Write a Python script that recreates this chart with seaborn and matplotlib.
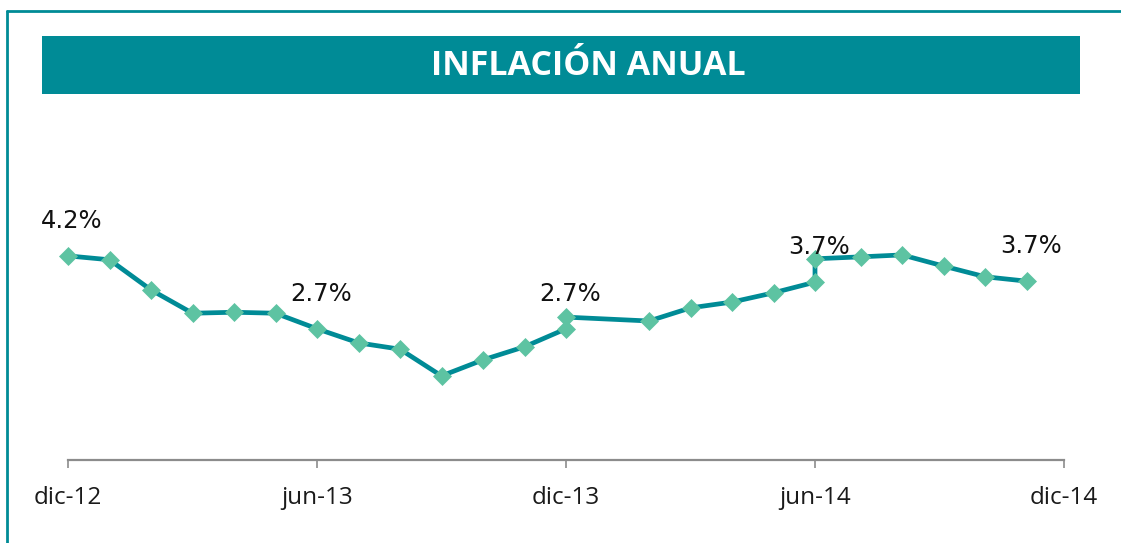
import matplotlib
matplotlib.use("Agg")
import matplotlib.pyplot as plt
from matplotlib.patches import Rectangle
from matplotlib.lines import Line2D
import seaborn as sns
import pandas as pd

# ---- data ----
month_pos = [0, 1, 2, 3, 4, 5, 6, 7, 8, 9, 10, 11, 12, 12, 14, 15, 16, 17, 18, 18,
             19.1, 20.1, 21.1, 22.1, 23.1]
inflation = [4.20, 4.12, 3.50, 3.02, 3.04, 3.02, 2.70, 2.41, 2.28, 1.73, 2.06, 2.33,
             2.70, 2.94, 2.86, 3.13, 3.25, 3.44, 3.66, 4.14, 4.18, 4.22, 3.99, 3.77, 3.68]
label_idx = [0, 6, 12, 18, 24]
tick_pos = [0, 6, 12, 18, 24]
tick_labels = ["dic-12", "jun-13", "dic-13", "jun-14", "dic-14"]
title = "INFLACIÓN ANUAL"

TEAL = "#008B96"
MINT = "#5DC3A2"

df = pd.DataFrame({"x": month_pos, "y": inflation})

sns.set_theme(style="white")
plt.rcParams["font.family"] = ["Open Sans", "DejaVu Sans"]

W, H = 1121, 543
fig = plt.figure(figsize=(W / 100, H / 100), dpi=100)
fig.patch.set_facecolor("white")

ax = fig.add_axes([68 / W, (H - 460) / H, (1064 - 68) / W, (460 - 217) / H])
sns.lineplot(data=df, x="x", y="y", ax=ax, sort=False, estimator=None,
             color=TEAL, linewidth=3.4, marker="D", markersize=9.5,
             markerfacecolor=MINT, markeredgecolor=MINT, markeredgewidth=0.5)
for ln in ax.lines:
    ln.set_clip_on(False)

ax.set_xlim(0, 24)
ax.set_ylim(0, 5)
ax.set_xlabel("")
ax.set_ylabel("")
ax.set_yticks([])
ax.set_xticks(tick_pos)
ax.set_xticklabels(tick_labels, fontsize=17.5, color="#1a1a1a", family=["Open Sans", "DejaVu Sans"])
for s in ["top", "right", "left"]:
    ax.spines[s].set_visible(False)
ax.spines["bottom"].set_color("#8c8c8c")
ax.spines["bottom"].set_linewidth(1.6)
ax.tick_params(axis="x", direction="out", length=6, width=1.2, color="#8c8c8c",
               pad=13, bottom=True)
ax.patch.set_alpha(0)

for i in label_idx:
    ax.annotate(f"{inflation[i]:.1f}%", (month_pos[i], inflation[i]),
                xytext=(3, 25), textcoords="offset points",
                ha="center", va="center", fontsize=17.5, color="#111111",
                family="DejaVu Sans", annotation_clip=False)

# banner
fig.patches.append(Rectangle((42 / W, 1 - 94 / H), (1080 - 42) / W, (94 - 36) / H,
                             transform=fig.transFigure, facecolor=TEAL,
                             edgecolor="none", zorder=0))
fig.text(588 / W, 1 - 66 / H, title, ha="center", va="center", color="white",
         fontsize=24.5, fontweight="bold", family=["Open Sans", "DejaVu Sans"])

# frame
fig.lines.append(Line2D([7 / W, 1.0], [1 - 11 / H, 1 - 11 / H], transform=fig.transFigure,
                        color=TEAL, linewidth=2))
fig.lines.append(Line2D([7 / W, 7 / W], [1 - 11 / H, 0], transform=fig.transFigure,
                        color=TEAL, linewidth=2))

fig.savefig("out.png", dpi=100)
